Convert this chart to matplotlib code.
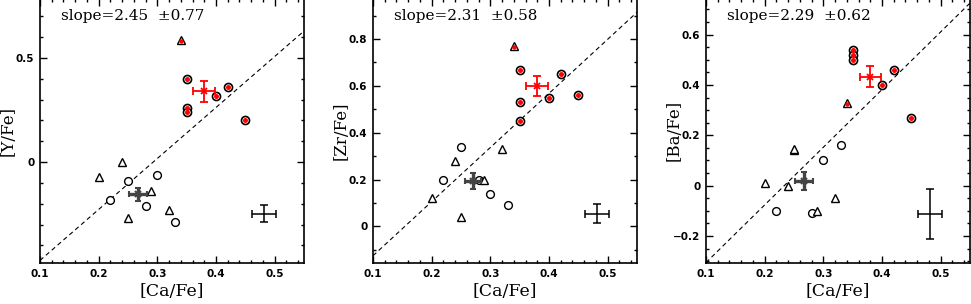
import matplotlib
matplotlib.use("Agg")
import matplotlib.pyplot as plt
from matplotlib.ticker import MultipleLocator, FuncFormatter

# [Ca/Fe] of the stars, one list per group
ca_black_circ = [0.22, 0.25, 0.28, 0.30, 0.33]
ca_black_tri = [0.20, 0.24, 0.25, 0.29, 0.32]
ca_red_circ = [0.35, 0.35, 0.35, 0.40, 0.42, 0.45]
ca_red_tri = [0.34]

# [Y/Fe]
y_black_circ = [-0.18, -0.09, -0.21, -0.06, -0.29]
y_black_tri = [-0.07, 0.0, -0.27, -0.14, -0.23]
y_red_circ = [0.40, 0.26, 0.24, 0.32, 0.36, 0.20]
y_red_tri = [0.585]

# [Zr/Fe]
zr_black_circ = [0.20, 0.34, 0.20, 0.14, 0.09]
zr_black_tri = [0.12, 0.28, 0.04, 0.20, 0.33]
zr_red_circ = [0.67, 0.53, 0.45, 0.55, 0.65, 0.56]
zr_red_tri = [0.77]

# [Ba/Fe] (the red circles at 0.35 are stacked)
ca_ba_red_circ = [0.35, 0.35, 0.35, 0.40, 0.42, 0.45]
ba_red_circ = [0.54, 0.52, 0.50, 0.40, 0.46, 0.27]
ba_red_tri = [0.33]
ca_ba_black_circ = [0.22, 0.28, 0.30, 0.33]
ba_black_circ = [-0.10, -0.11, 0.10, 0.16]
ca_ba_black_tri = [0.20, 0.24, 0.25, 0.25, 0.29, 0.32]
ba_black_tri = [0.01, 0.0, 0.14, 0.145, -0.10, -0.05]

# group means with errors: (x, xerr, y, yerr)
black_mean = {"Y": (0.267, 0.016, -0.155, 0.03),
              "Zr": (0.27, 0.014, 0.195, 0.034),
              "Ba": (0.267, 0.016, 0.02, 0.036)}
red_mean = {"Y": (0.38, 0.019, 0.34, 0.052),
            "Zr": (0.38, 0.019, 0.60, 0.044),
            "Ba": (0.38, 0.018, 0.433, 0.041)}
# typical error bar in the corner
typ_err = {"Y": (0.482, 0.02, -0.248, 0.041),
           "Zr": (0.482, 0.02, 0.055, 0.041),
           "Ba": (0.482, 0.02, -0.112, 0.10)}

# fitted lines: slope, error, intercept
slopes = {"Y": (2.45, 0.77, -0.7175),
          "Zr": (2.31, 0.58, -0.356),
          "Ba": (2.29, 0.62, -0.5345)}

ylims = {"Y": (-0.485, 0.785), "Zr": (-0.156, 0.972), "Ba": (-0.307, 0.742)}
ymajor = {"Y": 0.5, "Zr": 0.2, "Ba": 0.2}
yminor = {"Y": 0.1, "Zr": 0.1, "Ba": 0.05}
ylabels = {"Y": "[Y/Fe]", "Zr": "[Zr/Fe]", "Ba": "[Ba/Fe]"}

panels = [
    ("Y", ca_black_circ, y_black_circ, ca_black_tri, y_black_tri,
     ca_red_circ, y_red_circ, ca_red_tri, y_red_tri),
    ("Zr", ca_black_circ, zr_black_circ, ca_black_tri, zr_black_tri,
     ca_red_circ, zr_red_circ, ca_red_tri, zr_red_tri),
    ("Ba", ca_ba_black_circ, ba_black_circ, ca_ba_black_tri, ba_black_tri,
     ca_ba_red_circ, ba_red_circ, ca_red_tri, ba_red_tri),
]

lefts = [40 / 971, 373 / 971, 706 / 971]
W, H = 971, 304


def fmt(v, pos):
    v = round(v, 3)
    if v == 0:
        return "0"
    return f"{v:g}".replace("-", "\u2212")


fig = plt.figure(figsize=(9.71, 3.04), dpi=100)

for left, (el, xc, yc, xt, yt, xrc, yrc, xrt, yrt) in zip(lefts, panels):
    ax = fig.add_axes([left, 1 - 263 / H, 264 / W, 263 / H + 0.004])

    # fitted line
    s, se, b = slopes[el]
    xs = [0.1, 0.55]
    ax.plot(xs, [b + s * x for x in xs], ls=(0, (4, 3)), color="black", lw=0.8)

    # black stars
    ax.plot(xc, yc, "o", ms=5.6, mfc="white", mec="black", mew=1.0)
    ax.plot(xt, yt, "^", ms=6.2, mfc="white", mec="black", mew=1.0)

    # red stars
    ax.plot(xrc, yrc, "o", ms=5.8, mfc="white", mec="black", mew=1.2)
    ax.plot(xrc, yrc, "o", ms=3.6, mfc="red", mec="red", mew=0)
    ax.plot(xrt, yrt, "^", ms=6.2, mfc="white", mec="black", mew=1.0)
    ax.plot(xrt, [v - 0.004 for v in yrt], "o", ms=3.2, mfc="red", mec="red", mew=0)

    # means
    mx, mxe, my, mye = black_mean[el]
    ax.errorbar(mx, my, xerr=mxe, yerr=mye, fmt="x", color="#444444",
                ms=4, mew=1.5, elinewidth=2.4, capsize=2.5, capthick=2.2, zorder=5)
    rx, rxe, ry, rye = red_mean[el]
    ax.errorbar(rx, ry, xerr=rxe, yerr=rye, fmt="x", color="red",
                ms=4, mew=1.3, elinewidth=1.3, capsize=3, capthick=1.3, zorder=5)
    tx, txe, ty, tye = typ_err[el]
    ax.errorbar(tx, ty, xerr=txe, yerr=tye, fmt="none", ecolor="black",
                elinewidth=1.1, capsize=3, capthick=1.1)

    ax.text(0.08, 0.933, f"slope={s:.2f}  \u00b1{se:.2f}", transform=ax.transAxes,
            ha="left", va="center", fontsize=11, family="DejaVu Serif")

    ax.set_xlim(0.1, 0.55)
    ax.set_ylim(*ylims[el])
    ax.xaxis.set_major_locator(MultipleLocator(0.1))
    ax.xaxis.set_minor_locator(MultipleLocator(0.02))
    ax.yaxis.set_major_locator(MultipleLocator(ymajor[el]))
    ax.yaxis.set_minor_locator(MultipleLocator(yminor[el]))
    ax.xaxis.set_major_formatter(FuncFormatter(fmt))
    ax.yaxis.set_major_formatter(FuncFormatter(fmt))
    ax.tick_params(which="both", direction="in", top=True, right=True,
                   labelsize=7.5, width=1.0)
    ax.tick_params(which="major", length=5, pad=4)
    ax.tick_params(which="minor", length=2.5)
    for lab in ax.get_xticklabels() + ax.get_yticklabels():
        lab.set_fontweight("bold")
    for sp in ax.spines.values():
        sp.set_linewidth(1.2)

    ax.set_xlabel("[Ca/Fe]", fontsize=12.5, family="DejaVu Serif", labelpad=3)
    ax.set_ylabel(ylabels[el], fontsize=12, family="DejaVu Serif")
    ax.yaxis.set_label_coords(-0.087, 0.5)

fig.savefig("out.png", dpi=100)
